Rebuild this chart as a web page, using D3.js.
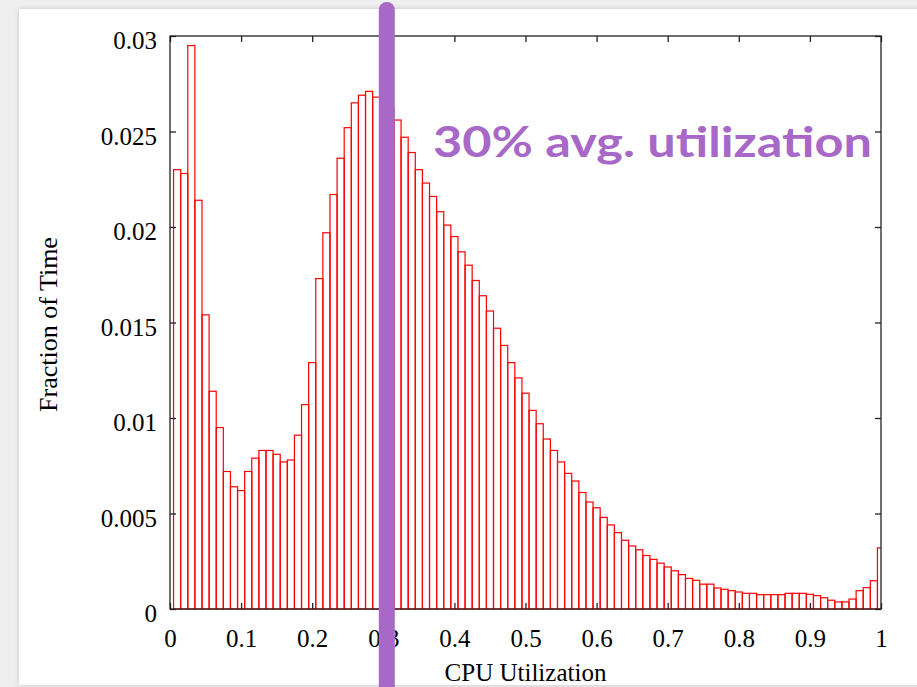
<!DOCTYPE html>
<html>
<head>
<meta charset="utf-8">
<script src="https://cdn.jsdelivr.net/npm/d3@7"></script>
<style>
  html, body { margin: 0; padding: 0; background: #efefef; }
  svg { display: block; }
  .tick text { font-family: "Liberation Serif", "Times New Roman", serif; fill: #000; }
</style>
</head>
<body>
<svg id="chart" width="917" height="687"></svg>
<script>
// Histogram of CPU utilization: fraction of time spent in each 1% bin.
const binWidth = 0.01;
const fractionOfTime = [
  0.0230, 0.0228, 0.0295, 0.0214, 0.0154, 0.0114, 0.0095, 0.0072, 0.0064, 0.0062,
  0.0072, 0.0079, 0.0083, 0.0083, 0.0081, 0.0077, 0.0078, 0.0091, 0.0107, 0.0129,
  0.0173, 0.0197, 0.0217, 0.0236, 0.0252, 0.0265, 0.0269, 0.0271, 0.0268, 0.0266,
  0.0262, 0.0256, 0.0247, 0.0239, 0.0230, 0.0223, 0.0216, 0.0208, 0.0201, 0.0195,
  0.0187, 0.0180, 0.0172, 0.0164, 0.0156, 0.0147, 0.0138, 0.0129, 0.0121, 0.0113,
  0.0104, 0.0097, 0.0089, 0.0083, 0.0077, 0.0071, 0.0067, 0.0061, 0.0056, 0.0053,
  0.0048, 0.0044, 0.0040, 0.0036, 0.0033, 0.0031, 0.0028, 0.0026, 0.0024, 0.0022,
  0.0020, 0.0018, 0.0016, 0.0015, 0.0013, 0.0013, 0.0011, 0.00103, 0.00096, 0.00089,
  0.00082, 0.00082, 0.00075, 0.00075, 0.00075, 0.00075, 0.00082, 0.00082, 0.00082, 0.00077,
  0.0007, 0.00059, 0.00046, 0.00037, 0.00037, 0.00052, 0.00096, 0.00112, 0.00148, 0.0032
];
// bin centres: 0.01, 0.02, ... 1.00
const binCenters = fractionOfTime.map((_, i) => +((i + 1) * binWidth).toFixed(2));

const xTicks = [0, 0.1, 0.2, 0.3, 0.4, 0.5, 0.6, 0.7, 0.8, 0.9, 1];
const xTickLabels = ["0", "0.1", "0.2", "0.3", "0.4", "0.5", "0.6", "0.7", "0.8", "0.9", "1"];
const yTicks = [0, 0.005, 0.01, 0.015, 0.02, 0.025, 0.03];
const yTickLabels = ["0", "0.005", "0.01", "0.015", "0.02", "0.025", "0.03"];

const avgUtilization = 0.3;
const annotation = "30% avg. utilization";

const svg = d3.select("#chart");
const W = 917, H = 687;

// slide panel with a soft shadow
const defs = svg.append("defs");
const sh = defs.append("filter").attr("id", "shadow")
  .attr("x", "-5%").attr("y", "-5%").attr("width", "110%").attr("height", "110%");
sh.append("feDropShadow").attr("dx", 0).attr("dy", 0)
  .attr("stdDeviation", 2.5).attr("flood-color", "#000").attr("flood-opacity", 0.18);
svg.append("rect").attr("x", 19).attr("y", 9).attr("width", W - 19 + 10).attr("height", 676)
  .attr("fill", "#fff").attr("filter", "url(#shadow)");

const plot = { left: 170, right: 881, top: 36, bottom: 609 };
const x = d3.scaleLinear().domain([0, 1]).range([plot.left, plot.right]);
const y = d3.scaleLinear().domain([0, 0.03]).range([plot.bottom, plot.top]);

defs.append("clipPath").attr("id", "plotclip").append("rect")
  .attr("x", plot.left).attr("y", plot.top - 2)
  .attr("width", plot.right - plot.left).attr("height", plot.bottom - plot.top + 4);

// bars
svg.append("g").attr("clip-path", "url(#plotclip)")
  .selectAll("rect").data(fractionOfTime).join("rect")
  .attr("x", (d, i) => x(binCenters[i] - binWidth / 2))
  .attr("width", (d, i) => x(binCenters[i] + binWidth / 2) - x(binCenters[i] - binWidth / 2))
  .attr("y", d => y(d))
  .attr("height", d => y(0) - y(d))
  .attr("fill", "none")
  .attr("stroke", "#ff0000")
  .attr("stroke-width", 1.2);

// axes: inward ticks on all four sides, labels on bottom and left
const fmtX = d => xTickLabels[xTicks.indexOf(d)];
const fmtY = d => yTickLabels[yTicks.indexOf(d)];

const gx = svg.append("g").attr("transform", `translate(0,${plot.bottom})`)
  .call(d3.axisBottom(x).tickValues(xTicks).tickFormat(fmtX).tickSizeInner(-6).tickSizeOuter(0).tickPadding(20));
const gy = svg.append("g").attr("transform", `translate(${plot.left},0)`)
  .call(d3.axisLeft(y).tickValues(yTicks).tickFormat(fmtY).tickSizeInner(-6).tickSizeOuter(0).tickPadding(13));
svg.append("g").attr("transform", `translate(0,${plot.top})`)
  .call(d3.axisTop(x).tickValues(xTicks).tickFormat("").tickSizeInner(-6).tickSizeOuter(0));
svg.append("g").attr("transform", `translate(${plot.right},0)`)
  .call(d3.axisRight(y).tickValues(yTicks).tickFormat("").tickSizeInner(-6).tickSizeOuter(0));

svg.selectAll(".domain").remove();
svg.selectAll(".tick line").attr("stroke", "#222").attr("stroke-width", 1.3);
gx.selectAll("text").attr("font-size", 25);
gy.selectAll("text").attr("font-size", 25).attr("dy", "0.5em");

// frame
svg.append("rect")
  .attr("x", plot.left).attr("y", plot.top)
  .attr("width", plot.right - plot.left).attr("height", plot.bottom - plot.top)
  .attr("fill", "none").attr("stroke", "#222").attr("stroke-width", 1.3);

// axis titles
svg.append("text")
  .attr("x", (plot.left + plot.right) / 2).attr("y", 681)
  .attr("text-anchor", "middle")
  .attr("font-family", "'Liberation Serif', 'Times New Roman', serif")
  .attr("font-size", 25).text("CPU Utilization");
svg.append("text")
  .attr("transform", `translate(57,${(plot.top + plot.bottom) / 2 + 2}) rotate(-90)`)
  .attr("text-anchor", "middle")
  .attr("font-family", "'Liberation Serif', 'Times New Roman', serif")
  .attr("font-size", 26).text("Fraction of Time");

// average-utilization marker
const purple = "#a768c8";
svg.append("line")
  .attr("x1", x(avgUtilization) + 3.5).attr("x2", x(avgUtilization) + 3.5)
  .attr("y1", 10).attr("y2", H + 20)
  .attr("stroke", purple).attr("stroke-width", 16).attr("stroke-linecap", "round");
svg.append("text")
  .attr("x", 433).attr("y", 157)
  .attr("font-family", "Lato, 'Open Sans', sans-serif").attr("font-weight", 700)
  .attr("font-size", 42).attr("fill", purple)
  .attr("textLength", 439).attr("lengthAdjust", "spacingAndGlyphs")
  .text(annotation);
</script>
</body>
</html>
